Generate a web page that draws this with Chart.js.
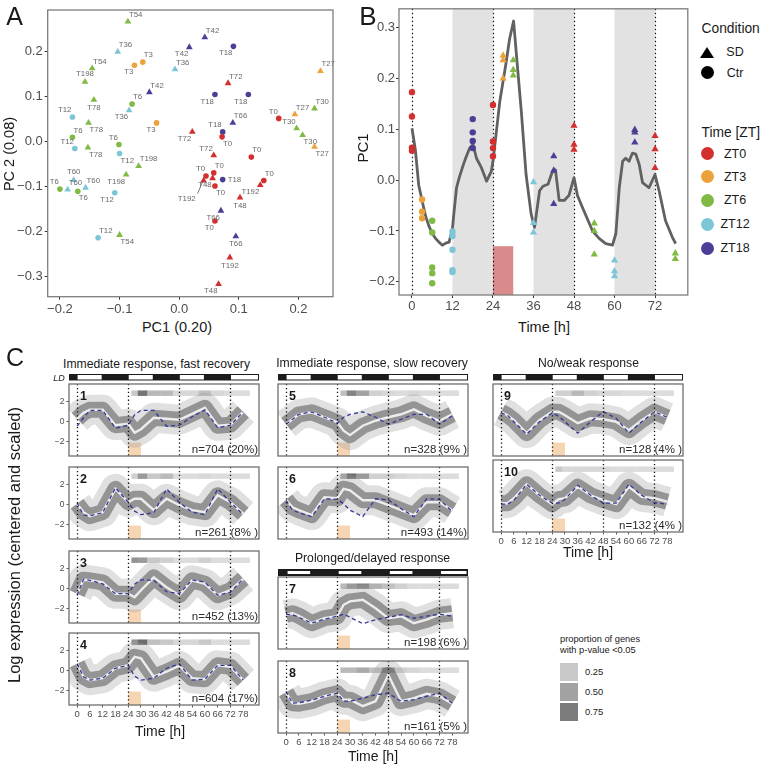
<!doctype html>
<html lang="en">
<head>
<meta charset="utf-8">
<title>PCA and response clusters</title>
<script src="https://cdn.jsdelivr.net/npm/chart.js@4.4.1/dist/chart.umd.min.js"></script>
<style>
  html, body { margin: 0; padding: 0; background: #fff; }
  body { position: relative; width: 762px; height: 766px; overflow: hidden;
         font-family: "Liberation Sans", Arial, sans-serif; color: #1a1a1a; }
  canvas { position: absolute; }
  .t { position: absolute; white-space: nowrap; line-height: 1; }
  .sym { position: absolute; }
</style>
</head>
<body>
<script>
// ---------- panel A : PCA of samples ----------
const aLabel = ['T54','T36','T3','T3','T54','T198','T78','T12','T78','T6',
  'T12','T78','T6','T12','T198','T36','T6','T42','T3','T36',
  'T42','T42','T18','T72','T18','T18','T66','T18','T0','T72',
  'T0','T27','T30','T30','T27','T30','T27','T60','T6','T60',
  'T6','T60','T12','T198','T12','T54','T0','T0','T48','T0',
  'T18','T192','T0','T192','T48','T66','T0','T66','T192','T48',
  'T72','T0'];
const aPC1 = [-0.086,-0.103,-0.075,-0.061,-0.146,-0.158,-0.143,-0.179,-0.152,-0.179,
  -0.175,-0.153,-0.101,-0.100,-0.068,-0.084,-0.079,-0.050,-0.038,-0.007,
  0.017,0.043,0.091,0.082,0.060,0.116,0.090,0.073,0.072,0.022,
  0.167,0.194,0.197,0.207,0.237,0.227,0.227,-0.177,-0.200,-0.187,
  -0.170,-0.157,-0.108,-0.089,-0.136,-0.100,0.045,0.058,0.056,0.060,
  0.073,0.041,0.142,0.136,0.102,0.070,0.060,0.095,0.085,0.066,
  0.058,0.121];
const aPC2 = [0.267,0.200,0.170,0.177,0.163,0.133,0.093,0.055,0.042,0.010,
  -0.015,-0.013,-0.006,-0.026,-0.054,0.070,0.084,0.110,0.042,0.161,
  0.210,0.232,0.212,0.130,0.105,0.105,0.042,0.022,0.011,0.022,
  0.052,0.061,0.030,0.015,0.157,0.074,-0.011,-0.085,-0.105,-0.106,
  -0.110,-0.102,-0.113,-0.073,-0.213,-0.207,-0.076,-0.069,-0.081,-0.098,
  -0.084,-0.086,-0.086,-0.096,-0.124,-0.153,-0.176,-0.210,-0.257,-0.316,
  -0.030,-0.034];
// where each sample label sits around its point
const aLabelPos = ['ne','ne','sw','ne','ne','n','s','nw','se','ne',
  'nw','se','nw','se','ne','sw','ne','ne','sw','ne',
  'sw','ne','sw','ne','sw','sw','ne','nw','se','sw',
  'nw','ne','nw','se','ne','ne','se','n','nw','ne',
  'se','ne','sw','sw','ne','se','nw','ne','sw','se',
  'e','far','ne','sw','s','sw','sw','s','s','sw',
  'nw','ne'];
const aTicksX = [-0.2, -0.1, 0, 0.1, 0.2];
const aTicksY = [-0.3, -0.2, -0.1, 0, 0.1, 0.2];

// ---------- panel B : PC1 over time ----------
const bCtrTime = [0,0,0,0, 3,3,3, 6,6,6,6,6, 12,12,12,12,12, 18,18,18,18, 24,24,24,24];
const bCtrPC1 = [0.173,0.125,0.064,0.058, -0.038,-0.062,-0.075,
  -0.080,-0.103,-0.172,-0.183,-0.203, -0.101,-0.110,-0.137,-0.177,-0.181,
  0.120,0.094,0.077,0.063, 0.148,0.076,0.063,0.047];
const bSdTime = [27,27,27, 30,30,30, 36,36,36, 42,42,42, 48,48,48, 54,54,54,
  60,60,60, 66,66,66, 72,72,72, 78,78];
const bSdPC1 = [0.245,0.236,0.200, 0.236,0.217,0.206, -0.004,-0.084,-0.103,
  0.047,0.019,-0.047, 0.107,0.070,0.060, -0.085,-0.100,-0.146,
  -0.158,-0.179,-0.189, 0.099,0.094,0.074, 0.087,0.061,0.024, -0.144,-0.155];
const bCurveTime = [0,1,2,3,4,5,6,7,8,9,10,11,12,12.5,13.2,14,15.2,16,17.1,18.1,
  19.1,20.6,22.1,23.5,24,26,27.9,28.9,30.1,30.9,32.4,33.8,35.3,36.3,37.8,38.8,
  40.3,41.5,42.5,43.6,45.1,46.5,48,49,50.5,53.5,55.5,57.4,59.4,60.4,61.4,62.4,
  63.3,64.3,65.3,66.3,67.3,68.3,70.2,72,73.2,75.1,77.1,78.1];
const bCurvePC1 = [0.102,0.060,-0.010,-0.040,-0.070,-0.090,-0.105,-0.115,-0.122,-0.128,
  -0.124,-0.122,-0.095,-0.060,-0.015,0.005,0.030,0.045,0.063,0.070,
  0.043,0.024,-0.002,0.017,0.037,0.154,0.232,0.277,0.313,0.250,0.134,0.011,
  -0.067,-0.093,-0.021,-0.012,-0.008,0.015,0.020,-0.040,-0.040,-0.030,0.005,
  -0.030,-0.054,-0.100,-0.115,-0.125,-0.128,-0.105,-0.015,0.037,0.043,0.037,
  0.053,0.051,0.031,-0.005,-0.015,0.011,-0.021,-0.080,-0.112,-0.125];
const bDarkPhases = [[12, 24], [36, 48], [60, 72]];
const bSdWindow = [24, 30];
const bDotted = [0, 24, 48, 72];
const bTicksX = [0, 12, 24, 36, 48, 60, 72];
const bTicksY = [-0.2, -0.1, 0, 0.1, 0.2, 0.3];

// ---------- panel C : clusters ----------
const cTimes = [0,3,6,12,18,24,27,30,36,42,48,54,60,66,72,78];
const cTicksX = [0,6,12,18,24,30,36,42,48,54,60,66,72,78];
const cTicksY = [-2, 0, 2];
const cTileEdges = [25.5,28.5,33,39,45,51,57,63,69,75,81];

const meanP1 = [0.3,0.9,1.2,1.2,-0.35,-0.2,-1.1,-0.75,0.4,0.3,0.2,0.8,1.4,-0.4,-0.3,1.0];
const ctrlP1 = [-0.45,0.4,1.15,1.15,-0.65,-0.35,0.7,1.15,1.15,-0.45,-0.35,0.5,1.2,-0.6,-0.35,1.0];
const meanP2 = [0.1,-0.75,-1.15,-0.75,1.6,0.25,0.6,0.6,-0.55,0.6,-0.05,-0.55,-0.75,0.95,0.25,-0.9];
const ctrlP2 = [0.2,-1.05,-1.1,-0.8,1.7,0.25,-0.65,-1.0,-0.8,1.6,0.25,-0.75,-1.0,1.6,0.25,-1.0];
const meanP3 = [-0.5,0.9,0.85,0.65,-0.5,-0.5,-0.85,-0.15,1.15,0.15,-0.65,0.85,0.5,-0.65,-0.15,1.0];
const ctrlP3 = [-0.65,0.95,0.85,0.5,-0.5,-0.5,0.45,0.9,0.85,-0.3,-0.5,0.9,0.65,-0.65,-0.35,1.0];
const meanP4 = [0.7,-0.6,-0.95,-0.75,0.25,0.55,1.4,1.25,-0.6,-0.1,0.5,-0.75,-0.85,0.55,0.4,-0.95];
const ctrlP4 = [0.7,-0.6,-0.95,-0.75,0.25,0.55,-0.55,-0.95,-0.75,0.25,0.7,-0.95,-0.85,0.55,0.55,-0.95];
const meanP5 = [-0.25,0.25,0.75,0.95,0.45,-0.05,-0.9,-1.35,-0.4,0.1,0.45,0.75,1.25,0.6,0.1,0.75];
const ctrlP5 = [-0.25,0.25,0.75,1.0,0.45,-0.15,0.45,0.75,1.0,0.45,-0.25,0.25,0.75,0.75,-0.25,0.6];
const meanP6 = [0.5,-0.25,-0.55,-1.05,0.75,0.65,1.6,1.45,0.45,0.45,-0.05,-0.55,-1.05,0.25,0.25,-0.55];
const ctrlP6 = [0.45,-0.55,-0.8,-1.2,0.6,0.55,0.1,-0.55,-1.2,0.6,0.5,-0.4,-1.2,0.6,0.55,-0.7];
const meanP7 = [0,0.15,-0.1,-0.85,-0.35,-0.15,1.0,1.35,1.5,0.65,-0.35,-0.15,-0.85,-0.5,0,0.15];
const ctrlP7 = [0.05,0,-0.25,-0.85,-0.45,-0.15,0.05,-0.25,-0.9,-0.5,-0.25,0,-0.35,-0.15,0.05,-0.15];
const meanP8 = [0.65,-0.45,-0.5,-0.25,0.25,0.55,-0.1,-0.1,-0.75,-0.25,2.4,-0.25,0.05,0.5,0.25,-0.5];
const ctrlP8 = [0.75,-0.45,-0.4,-0.15,0.25,0.55,-0.25,-0.25,0.05,0.4,0.55,-0.25,-0.1,0.25,0.55,-0.45];
const meanP9 = [1.0,0.65,0.15,-1.15,0.15,1.0,1.0,0.65,-0.15,0.35,0.25,0,-0.85,0.15,1.0,0.45];
const ctrlP9 = [0.9,0.65,0,-1.25,0,0.9,0.55,0,-1.15,0,1.0,0.35,-1.15,0,1.0,0.45];
const meanP10 = [-0.55,-0.55,-0.05,1.35,0.25,-0.65,-0.15,-0.05,1.1,0.25,-0.25,-0.65,1.1,0.1,-0.05,-0.4];
const ctrlP10 = [-0.65,-0.65,-0.25,1.35,0.25,-0.55,-0.55,-0.15,1.25,0.25,-0.55,-0.55,1.35,0.25,-0.5,-0.65];

// proportion of significant genes, tiles for 27,30,36,...,78 h
const tilesP1 = [0.25,0.8,0.35,0.35,0.15,0.15,0.3,0.15,0.12,0.12];
const tilesP2 = [0.2,0.55,0.25,0.35,0.12,0.12,0.15,0.12,0.12,0.12];
const tilesP3 = [0.6,0.55,0.25,0.2,0.12,0.12,0.2,0.12,0.12,0.12];
const tilesP4 = [0.6,0.85,0.3,0.25,0.15,0.15,0.25,0.12,0.12,0.12];
const tilesP5 = [0.3,0.7,0.5,0.2,0.15,0.12,0.15,0.12,0.12,0.12];
const tilesP6 = [0.45,0.85,0.55,0.2,0.2,0.15,0.12,0.12,0.12,0.12];
const tilesP7 = [0.35,0.55,0.7,0.4,0.3,0.2,0.12,0.12,0.12,0.12];
const tilesP8 = [0.35,0.35,0.45,0.3,0.65,0.2,0.15,0.12,0.12,0.12];
const tilesP9 = [0.2,0.2,0.35,0.2,0.15,0.15,0.12,0.12,0.12,0.12];
const tilesP10 = [0.25,0.15,0.15,0.15,0.15,0.12,0.12,0.12,0.12,0.12];

const nLabels = ['n=704 (20%)','n=261 (8% )','n=452 (13%)','n=604 (17%)','n=328 (9% )',
  'n=493 (14%)','n=198 (6% )','n=161 (5% )','n=128 (4% )','n=132 (4% )'];
const legendProps = [0.25, 0.50, 0.75];

// ---------- helpers ----------
const FONT = "'Liberation Sans', Arial, sans-serif";
Chart.defaults.font.family = FONT;
Chart.defaults.animation = false;
Chart.defaults.responsive = false;
Chart.defaults.plugins.legend.display = false;
Chart.defaults.plugins.tooltip.enabled = false;

const ztColor = {0: '#d32f2f', 3: '#eba23a', 6: '#80ba44', 12: '#7cc6d8', 18: '#4b3e97'};
const hours = lab => +lab.slice(1);
const minus = v => (v < 0 ? '\u2212' : '') + Math.abs(v);
const fmt1 = v => (v < 0 ? '\u2212' : '') + Math.abs(v).toFixed(1);
const propGray = p => { const L = Math.round(238 - 152 * p); return `rgb(${L},${L},${L})`; };

function makeCanvas(left, top, w, h) {
  const c = document.createElement('canvas');
  c.width = w; c.height = h;
  c.style.left = left + 'px'; c.style.top = top + 'px';
  c.style.width = w + 'px'; c.style.height = h + 'px';
  document.body.appendChild(c);
  return c;
}
function addText(s, x, y, size, o) {
  o = o || {};
  const d = document.createElement('div');
  d.className = 't';
  d.textContent = s;
  d.style.left = x + 'px'; d.style.top = y + 'px';
  d.style.fontSize = size + 'px';
  if (o.bold) d.style.fontWeight = 'bold';
  if (o.italic) d.style.fontStyle = 'italic';
  if (o.color) d.style.color = o.color;
  const ax = o.align === 'left' ? '0' : o.align === 'right' ? '-100%' : '-50%';
  d.style.transform = `translate(${ax},-50%)` + (o.rot ? ` rotate(${o.rot}deg)` : '');
  document.body.appendChild(d);
}
function fixedTicks(list) { return s => { s.ticks = list.map(v => ({value: v})); }; }

const framePlugin = {
  id: 'frame',
  afterDraw(chart, args, opts) {
    const {ctx, chartArea: a} = chart;
    ctx.save();
    ctx.strokeStyle = opts.color || '#7a7a7a';
    ctx.lineWidth = opts.width || 1.2;
    ctx.strokeRect(a.left, a.top, a.right - a.left, a.bottom - a.top);
    ctx.restore();
  }
};

// ---------- A ----------
const labelOffsets = {
  ne: {dx: 1, dy: -3, align: 'left', base: 'bottom'},
  nw: {dx: -1, dy: -3, align: 'right', base: 'bottom'},
  se: {dx: 1, dy: 3, align: 'left', base: 'top'},
  sw: {dx: -1, dy: 3, align: 'right', base: 'top'},
  n: {dx: 0, dy: -4, align: 'center', base: 'bottom'},
  s: {dx: 0, dy: 4, align: 'center', base: 'top'},
  e: {dx: 5, dy: 0, align: 'left', base: 'middle'},
  far: {dx: -8, dy: 14, align: 'right', base: 'top', lead: true}
};
const pcaLabels = {
  id: 'pcaLabels',
  afterDatasetsDraw(chart) {
    const {ctx, scales: {x, y}} = chart;
    ctx.save();
    ctx.font = '7.8px ' + FONT;
    ctx.fillStyle = '#6a6a6a';
    ctx.strokeStyle = '#555';
    ctx.lineWidth = 0.8;
    aLabel.forEach((lab, i) => {
      const px = x.getPixelForValue(aPC1[i]), py = y.getPixelForValue(aPC2[i]);
      const o = labelOffsets[aLabelPos[i]];
      if (o.lead) {
        ctx.beginPath(); ctx.moveTo(px - 1, py + 1); ctx.lineTo(px + o.dx + 2, py + o.dy - 1); ctx.stroke();
      }
      ctx.textAlign = o.align; ctx.textBaseline = o.base;
      ctx.fillText(lab, px + o.dx, py + o.dy);
    });
    ctx.restore();
  }
};

new Chart(makeCanvas(0, 0, 337, 318), {
  type: 'scatter',
  data: {datasets: [{
    data: aPC1.map((v, i) => ({x: v, y: aPC2[i]})),
    pointStyle: aLabel.map(l => hours(l) >= 24 ? 'triangle' : 'circle'),
    pointRadius: aLabel.map(l => hours(l) >= 24 ? 3.9 : 2.8),
    pointBackgroundColor: aLabel.map(l => ztColor[hours(l) % 24]),
    pointBorderWidth: 0
  }]},
  options: {
    layout: {padding: {top: 10, right: 2, left: 0, bottom: 0}},
    scales: {
      x: {type: 'linear', min: -0.2205, max: 0.258, afterBuildTicks: fixedTicks(aTicksX),
          afterFit: s => { s.height = 21.3; },
          grid: {drawOnChartArea: false, tickLength: 3, color: '#333'}, border: {display: false},
          ticks: {autoSkip: false, maxRotation: 0, padding: 2, color: '#4d4d4d', font: {size: 13}, callback: fmt1}},
      y: {type: 'linear', min: -0.344, max: 0.2927, afterBuildTicks: fixedTicks(aTicksY),
          afterFit: s => { s.width = 47.7; },
          grid: {drawOnChartArea: false, tickLength: 3, color: '#333'}, border: {display: false},
          ticks: {autoSkip: false, padding: 2, color: '#4d4d4d', font: {size: 13}, callback: fmt1}}
    },
    plugins: {frame: {color: '#7d7d7d', width: 1.3}}
  },
  plugins: [pcaLabels, framePlugin]
});

// ---------- B ----------
const bBackdrop = {
  id: 'bBackdrop',
  beforeDatasetsDraw(chart) {
    const {ctx, chartArea: a, scales: {x, y}} = chart;
    ctx.save();
    ctx.fillStyle = '#e2e2e2';
    bDarkPhases.forEach(([s, e]) => {
      ctx.fillRect(x.getPixelForValue(s), a.top, x.getPixelForValue(e) - x.getPixelForValue(s), a.bottom - a.top);
    });
    ctx.fillStyle = '#d98b8b';
    const rx = x.getPixelForValue(bSdWindow[0]), ry = y.getPixelForValue(-0.13);
    ctx.fillRect(rx, ry, x.getPixelForValue(bSdWindow[1]) - rx, a.bottom - ry);
    ctx.strokeStyle = '#111';
    ctx.lineWidth = 1.2;
    ctx.setLineDash([1.4, 2.6]);
    bDotted.forEach(t => {
      const px = Math.round(x.getPixelForValue(t)) + 0.5;
      ctx.beginPath(); ctx.moveTo(px, a.top); ctx.lineTo(px, a.bottom); ctx.stroke();
    });
    ctx.restore();
  }
};

new Chart(makeCanvas(340, 0, 352, 318), {
  type: 'scatter',
  data: {datasets: [
    {data: bSdTime.map((t, i) => ({x: t, y: bSdPC1[i]})), pointStyle: 'triangle', pointRadius: 4.2, order: 0,
     pointBorderWidth: 0, pointBackgroundColor: bSdTime.map(t => ztColor[t % 24])},
    {data: bCtrTime.map((t, i) => ({x: t, y: bCtrPC1[i]})), pointStyle: 'circle', pointRadius: 3.2, order: 1,
     pointBorderWidth: 0, pointBackgroundColor: bCtrTime.map(t => ztColor[t % 24])},
    {data: bCurveTime.map((t, i) => ({x: t, y: bCurvePC1[i]})), showLine: true, pointRadius: 0, order: 2,
     borderColor: '#616161', borderWidth: 2.8, borderJoinStyle: 'round'}
  ]},
  options: {
    layout: {padding: {top: 6, right: 3, left: 0, bottom: 0}},
    scales: {
      x: {type: 'linear', min: -3.84, max: 81.7, afterBuildTicks: fixedTicks(bTicksX),
          afterFit: s => { s.height = 23; },
          grid: {drawOnChartArea: false, tickLength: 3, color: '#333'}, border: {display: false},
          ticks: {autoSkip: false, maxRotation: 0, padding: 1, color: '#4d4d4d', font: {size: 13}}},
      y: {type: 'linear', min: -0.226, max: 0.337, afterBuildTicks: fixedTicks(bTicksY),
          afterFit: s => { s.width = 59; },
          grid: {drawOnChartArea: false, tickLength: 3, color: '#333'}, border: {display: false},
          ticks: {autoSkip: false, padding: 1, color: '#4d4d4d', font: {size: 13}, callback: fmt1}}
    },
    plugins: {frame: {color: '#7d7d7d', width: 1.3}}
  },
  plugins: [bBackdrop, framePlugin]
});

// ---------- C ----------
const CW = 190, CH = 72;
const clusterDeco = {
  id: 'clusterDeco',
  beforeDatasetsDraw(chart, args, o) {
    const {ctx, chartArea: a, scales: {x, y}} = chart;
    ctx.save();
    ctx.fillStyle = '#f6d5b3';
    const px0 = x.getPixelForValue(24), px1 = x.getPixelForValue(30), py = y.getPixelForValue(-2.1);
    ctx.fillRect(px0, py, px1 - px0, a.bottom - py);
    const yt = y.getPixelForValue(3.15), yb = y.getPixelForValue(2.6);
    o.tiles.forEach((p, i) => {
      const l = x.getPixelForValue(cTileEdges[i]), r = x.getPixelForValue(cTileEdges[i + 1]);
      ctx.fillStyle = propGray(p);
      ctx.fillRect(l, yt, r - l + 0.3, yb - yt);
    });
    ctx.restore();
  },
  afterDatasetsDraw(chart, args, o) {
    const {ctx, chartArea: a, scales: {x}} = chart;
    ctx.save();
    ctx.fillStyle = '#2b2b2b';
    ctx.font = '11.5px ' + FONT;
    ctx.textAlign = 'right'; ctx.textBaseline = 'middle';
    ctx.fillText(o.n, a.right - 1, a.bottom - 6);
    ctx.strokeStyle = '#111';
    ctx.lineWidth = 1.3;
    ctx.setLineDash([1.3, 2.6]);
    bDotted.forEach(t => {
      const px = Math.round(x.getPixelForValue(t)) + 0.5;
      ctx.beginPath(); ctx.moveTo(px, a.top); ctx.lineTo(px, a.bottom); ctx.stroke();
    });
    ctx.setLineDash([]);
    ctx.fillStyle = '#1a1a1a';
    ctx.font = 'bold 12.5px ' + FONT;
    ctx.textAlign = 'left';
    ctx.fillText(o.num, a.left + 11, a.top + 13);
    ctx.restore();
  },
  afterDraw(chart, args, o) {
    if (!o.ld) return;
    const {ctx, chartArea: a, scales: {x}} = chart;
    const inset = o.ld === 'inset' ? 2 : 1;
    const top = o.ld === 'inset' ? a.top - 8 : a.top - 10;
    const bot = o.ld === 'inset' ? a.top - 1 : a.top - 3.5;
    ctx.save();
    ctx.fillStyle = '#1c1c1c';
    ctx.fillRect(a.left, top, a.right - a.left, bot - top);
    ctx.fillStyle = '#fff';
    [[0, 12], [24, 36], [48, 60], [72, x.max]].forEach(([s, e]) => {
      const l = x.getPixelForValue(s) + (o.ld === 'inset' ? 1.5 : 0.5);
      const r = x.getPixelForValue(e) - (o.ld === 'inset' ? 1.5 : 1);
      ctx.fillRect(l, top + inset, r - l, bot - top - 2 * inset);
    });
    ctx.restore();
  }
};

function clusterChart(p) {
  const padL = 24, padR = 3, padT = 13, padB = 16;
  const pts = arr => cTimes.map((t, i) => ({x: t, y: arr[i]}));
  new Chart(makeCanvas(p.left - padL, p.top - padT, CW + padL + padR, CH + padT + padB), {
    type: 'line',
    data: {datasets: [
      // lower order is drawn on top
      {data: pts(p.ctrl), order: 0, borderColor: '#34389a', borderWidth: 1.3, borderDash: [4, 3]},
      {data: pts(p.mean), order: 1, borderColor: '#ececec', borderWidth: 2.4},
      {data: pts(p.mean), order: 2, borderColor: 'rgba(115,115,115,0.7)', borderWidth: 16,
       borderJoinStyle: 'round', borderCapStyle: 'butt', clip: 0},
      {data: pts(p.mean), order: 3, borderColor: 'rgba(160,160,160,0.32)', borderWidth: 30,
       borderJoinStyle: 'round', borderCapStyle: 'butt', clip: 0}
    ]},
    options: {
      elements: {point: {radius: 0}, line: {tension: 0}},
      layout: {padding: {top: padT, right: padR, left: 0, bottom: 0}},
      scales: {
        x: {type: 'linear', min: -3.8, max: 85.4, afterBuildTicks: fixedTicks(cTicksX),
            afterFit: s => { s.height = padB; },
            grid: {display: p.xTicks, drawOnChartArea: false, tickLength: 2.5, color: '#333', lineWidth: 0.8},
            border: {display: false},
            ticks: {display: p.xTicks, autoSkip: false, maxRotation: 0, padding: 1, color: '#4d4d4d', font: {size: 9.5}}},
        y: {type: 'linear', min: -3.45, max: 3.8, afterBuildTicks: fixedTicks(cTicksY),
            afterFit: s => { s.width = padL; },
            grid: {display: p.yTicks, drawOnChartArea: false, tickLength: 2.5, color: '#333', lineWidth: 0.8},
            border: {display: false},
            ticks: {display: p.yTicks, padding: 2, color: '#4d4d4d', font: {size: 8.5}, callback: minus}}
      },
      plugins: {
        frame: {color: '#6f6f6f', width: 1.3},
        clusterDeco: {n: p.n, num: p.num, tiles: p.tiles, ld: p.ld}
      }
    },
    plugins: [clusterDeco, framePlugin]
  });
}

const col1 = 69, col2 = 277.5, col3 = 493.3;
const clusters = [
  {left: col1, top: 384,   mean: meanP1,  ctrl: ctrlP1,  tiles: tilesP1,  ld: 'plain', yTicks: true,  xTicks: false},
  {left: col1, top: 466.5, mean: meanP2,  ctrl: ctrlP2,  tiles: tilesP2,  ld: null,    yTicks: true,  xTicks: false},
  {left: col1, top: 551,   mean: meanP3,  ctrl: ctrlP3,  tiles: tilesP3,  ld: null,    yTicks: true,  xTicks: false},
  {left: col1, top: 633,   mean: meanP4,  ctrl: ctrlP4,  tiles: tilesP4,  ld: null,    yTicks: true,  xTicks: true},
  {left: col2, top: 384,   mean: meanP5,  ctrl: ctrlP5,  tiles: tilesP5,  ld: 'plain', yTicks: false, xTicks: false},
  {left: col2, top: 466.5, mean: meanP6,  ctrl: ctrlP6,  tiles: tilesP6,  ld: null,    yTicks: false, xTicks: false},
  {left: col2, top: 577,   mean: meanP7,  ctrl: ctrlP7,  tiles: tilesP7,  ld: 'inset', yTicks: false, xTicks: false},
  {left: col2, top: 661,   mean: meanP8,  ctrl: ctrlP8,  tiles: tilesP8,  ld: null,    yTicks: false, xTicks: true},
  {left: col3, top: 383.5, mean: meanP9,  ctrl: ctrlP9,  tiles: tilesP9,  ld: 'plain', yTicks: false, xTicks: false},
  {left: col3, top: 459.5, mean: meanP10, ctrl: ctrlP10, tiles: tilesP10, ld: null,    yTicks: false, xTicks: true}
];
clusters.forEach((c, i) => clusterChart(Object.assign(c, {num: String(i + 1), n: nLabels[i]})));

// ---------- text ----------
addText('A', 14.5, 16, 25);
addText('B', 368, 15.5, 26);
addText('C', 15, 357, 25);
addText('PC 2 (0.08)', 9, 154, 14.5, {rot: -90});
addText('PC1 (0.20)', 177, 326.5, 14.5);
addText('PC1', 361.5, 148, 15, {rot: -90});
addText('Time [h]', 544, 326.5, 14.5);

addText('Immediate response, fast recovery', 156.5, 363.5, 12.2);
addText('Immediate response, slow recovery', 372, 363, 12.2);
addText('No/weak response', 588.5, 363, 12.2);
addText('Prolonged/delayed response', 372.5, 557.5, 12.2);
addText('LD', 59, 378, 9, {italic: true});
addText('Log expression (centered and scaled)', 14, 545, 16.5, {rot: -90});
addText('Time [h]', 160, 731, 14);
addText('Time [h]', 373, 756, 14);
addText('Time [h]', 588, 552, 14);

// legend of panel B
addText('Condition', 701.5, 28.5, 13.8, {align: 'left'});
addText('Time [ZT]', 701.5, 133, 13.8, {align: 'left'});
(function () {
  const tri = document.createElement('div');
  tri.className = 'sym';
  Object.assign(tri.style, {left: '700px', top: '46.5px', width: 0, height: 0,
    borderLeft: '7px solid transparent', borderRight: '7px solid transparent', borderBottom: '11px solid #000'});
  document.body.appendChild(tri);
  const dot = (cx, cy, col) => {
    const d = document.createElement('div');
    d.className = 'sym';
    Object.assign(d.style, {left: (cx - 6.5) + 'px', top: (cy - 6.5) + 'px', width: '13px', height: '13px',
      borderRadius: '50%', background: col});
    document.body.appendChild(d);
  };
  dot(707, 72.5, '#000');
  addText('SD', 735, 52, 12.5);
  addText('Ctr', 735, 72.5, 12.5);
  const zts = [0, 3, 6, 12, 18];
  const ys = [153.5, 176.5, 200, 224, 248];
  zts.forEach((z, i) => { dot(707, ys[i], ztColor[z]); addText('ZT' + z, 735, ys[i], 12.5); });

  // legend of proportion tiles
  addText('proportion of genes', 560, 640, 9.3, {align: 'left'});
  addText('with p-value <0.05', 560, 651, 9.3, {align: 'left'});
  legendProps.forEach((p, i) => {
    const s = document.createElement('div');
    s.className = 'sym';
    Object.assign(s.style, {left: '559.5px', top: (662.5 + 20 * i) + 'px', width: '18px', height: '18px',
      background: propGray(p)});
    document.body.appendChild(s);
    addText(p.toFixed(2), 585, 671.5 + 20 * i, 9.4, {align: 'left'});
  });
})();
</script>
</body>
</html>
